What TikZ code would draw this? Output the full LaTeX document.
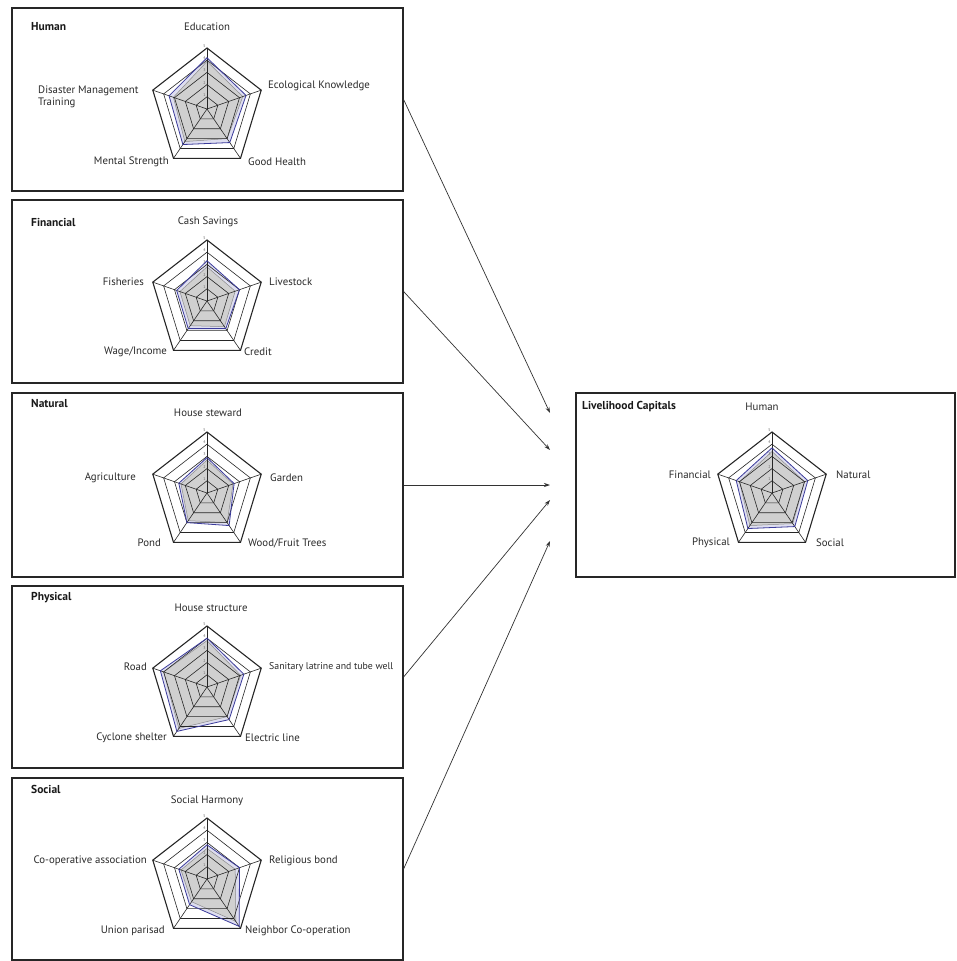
\documentclass[tikz,border=0pt]{standalone}
\usepackage{fontspec}
\setmainfont{PT Sans}
\usetikzlibrary{arrows.meta}
\definecolor{txt}{HTML}{2A2A2A}
\definecolor{bluel}{HTML}{3B3B9B}
\definecolor{lav}{HTML}{DEDEF0}
\definecolor{grayf}{HTML}{D0D0D0}
\tikzset{
  panel/.style={draw=black!85, line width=1.2pt, inner sep=0pt, fill=white},
  lbl/.style={text=txt, font=\fontsize{10.8}{12.5}\selectfont, inner sep=0pt},
  ttl/.style={text=black!90, font=\fontsize{11.5}{13}\selectfont\bfseries, inner sep=0pt, anchor=west},
  gridline/.style={draw=black!85, line width=0.6pt},
  outerline/.style={draw=black!85, line width=1.1pt},
  blueline/.style={draw=bluel, line width=0.8pt},
  grayline/.style={draw=black!45, line width=0.5pt},
  scalelbl/.style={text=black!60, font=\fontsize{4}{4}\selectfont, inner sep=0pt, anchor=east},
  conn/.style={draw=black!80, line width=0.7pt, -{Stealth[length=6pt,width=4pt]}}
}
\newcommand\radarchart[3]{%
\begin{scope}[shift={(#1)}, x={(11.4pt,0pt)}, y={(0pt,12.2pt)}]
  \foreach \v [count=\i] in {#2} {\coordinate (rb\i) at ({162-72*\i}:\v);}
  \foreach \v [count=\i] in {#3} {\coordinate (rg\i) at ({162-72*\i}:\v);}
  \fill[lav] (rb1)--(rb2)--(rb3)--(rb4)--(rb5)--cycle;
  \fill[grayf] (rg1)--(rg2)--(rg3)--(rg4)--(rg5)--cycle;
  \draw[grayline] (rg1)--(rg2)--(rg3)--(rg4)--(rg5)--cycle;
  \foreach \k in {1,2,3,4}
    \draw[gridline] (90:\k)--(18:\k)--(-54:\k)--(-126:\k)--(162:\k)--cycle;
  \draw[outerline] (90:5)--(18:5)--(-54:5)--(-126:5)--(162:5)--cycle;
  \foreach \a in {90,18,-54,-126,162} \draw[gridline] (0,0)--(\a:5);
  \draw[blueline] (rb1)--(rb2)--(rb3)--(rb4)--(rb5)--cycle;
  \foreach \k in {1,...,5} \node[scalelbl] at (-0.12,\k+0.15) {\k};
\end{scope}}
\begin{document}
\begin{tikzpicture}[x=1pt,y=-1pt]
\useasboundingbox (0,0) rectangle (956,961);
\fill[white] (0,0) rectangle (956,961);

% panels
\node[panel, minimum width=391pt, minimum height=183pt] (human) at (207.5,99.5) {};
\node[panel, minimum width=391pt, minimum height=183pt] (financial) at (207.5,291.5) {};
\node[panel, minimum width=391pt, minimum height=184pt] (natural) at (207.5,485) {};
\node[panel, minimum width=391pt, minimum height=182pt] (physical) at (207.5,677) {};
\node[panel, minimum width=391pt, minimum height=182pt] (social) at (207.5,869) {};
\node[panel, minimum width=379pt, minimum height=184pt] (capitals) at (765.5,485) {};

% charts
\radarchart{207,109}{4.2,3.6,3.4,3.6,3.5}{3.9,3.3,3.0,3.3,3.1}
\radarchart{207,301}{3.3,3.0,2.8,2.8,2.8}{2.8,2.6,2.6,2.5,2.5}
\radarchart{207,493}{2.9,2.5,3.3,3.0,2.6}{2.7,2.4,3.0,2.8,2.4}
\radarchart{207,687}{4.0,3.4,3.3,4.5,4.3}{3.8,3.1,3.0,4.2,4.0}
\radarchart{207,879}{2.8,3.0,4.8,2.6,2.6}{2.5,2.6,4.3,2.3,2.4}
\radarchart{772,493}{3.7,3.3,3.4,3.6,3.3}{3.4,3.0,3.1,3.3,3.0}

% Human
\node[ttl] (tHuman) at (31,27) {Human};
\node[lbl] (hEdu) at (207,27) {Education};
\node[lbl, anchor=west] (hEco) at (268,86) {Ecological Knowledge};
\node[lbl, anchor=west] (hHealth) at (248,162) {Good Health};
\node[lbl, anchor=east] (hMental) at (169,162) {Mental Strength};
\node[lbl, anchor=west, align=left] (hDis) at (38,97) {Disaster Management\\Training};

% Financial
\node[ttl] (tFin) at (31,222) {Financial};
\node[lbl] (fCash) at (208,222) {Cash Savings};
\node[lbl, anchor=west] (fLive) at (269,282) {Livestock};
\node[lbl, anchor=west] (fCredit) at (244,352) {Credit};
\node[lbl, anchor=east] (fWage) at (167,352) {Wage/Income};
\node[lbl, anchor=east] (fFish) at (144,282) {Fisheries};

% Natural
\node[ttl] (tNat) at (31,404) {Natural};
\node[lbl] (nHouse) at (208,413) {House steward};
\node[lbl, anchor=west] (nGarden) at (270,478) {Garden};
\node[lbl, anchor=west] (nWood) at (248,543) {Wood/Fruit Trees};
\node[lbl, anchor=east] (nPond) at (161,543) {Pond};
\node[lbl, anchor=east] (nAgri) at (136,478) {Agriculture};

% Physical
\node[ttl] (tPhy) at (31,598) {Physical};
\node[lbl] (pHouse) at (211,608) {House structure};
\node[lbl, anchor=west, font=\fontsize{9.8}{11}\selectfont] (pSan) at (269,667) {Sanitary latrine and tube well};
\node[lbl, anchor=west] (pElec) at (245,738) {Electric line};
\node[lbl, anchor=east] (pCyc) at (167,738) {Cyclone shelter};
\node[lbl, anchor=east] (pRoad) at (147,667) {Road};

% Social
\node[ttl] (tSoc) at (31,789) {Social};
\node[lbl] (sHarm) at (207,801) {Social Harmony};
\node[lbl, anchor=west] (sRel) at (269,861) {Religious bond};
\node[lbl, anchor=west] (sNeigh) at (245,931) {Neighbor Co-operation};
\node[lbl, anchor=east] (sUnion) at (165,931) {Union parisad};
\node[lbl, anchor=east] (sCoop) at (147,861) {Co-operative association};

% Livelihood capitals
\node[ttl] (tCap) at (582,407) {Livelihood Capitals};
\node[lbl] (cHuman) at (762,407) {Human};
\node[lbl, anchor=west] (cNat) at (836,475) {Natural};
\node[lbl, anchor=west] (cSoc) at (816,543) {Social};
\node[lbl, anchor=east] (cPhy) at (730,543) {Physical};
\node[lbl, anchor=east] (cFin) at (711,475) {Financial};

% connectors
\coordinate (t1) at (550,413);
\coordinate (t2) at (550,450);
\coordinate (t3) at (550,485);
\coordinate (t4) at (550,500);
\coordinate (t5) at (550,541);
\draw[conn] (human.east) -- (t1);
\draw[conn] (financial.east) -- (t2);
\draw[conn] (natural.east) -- (t3);
\draw[conn] (physical.east) -- (t4);
\draw[conn] (social.east) -- (t5);
\end{tikzpicture}
\end{document}
